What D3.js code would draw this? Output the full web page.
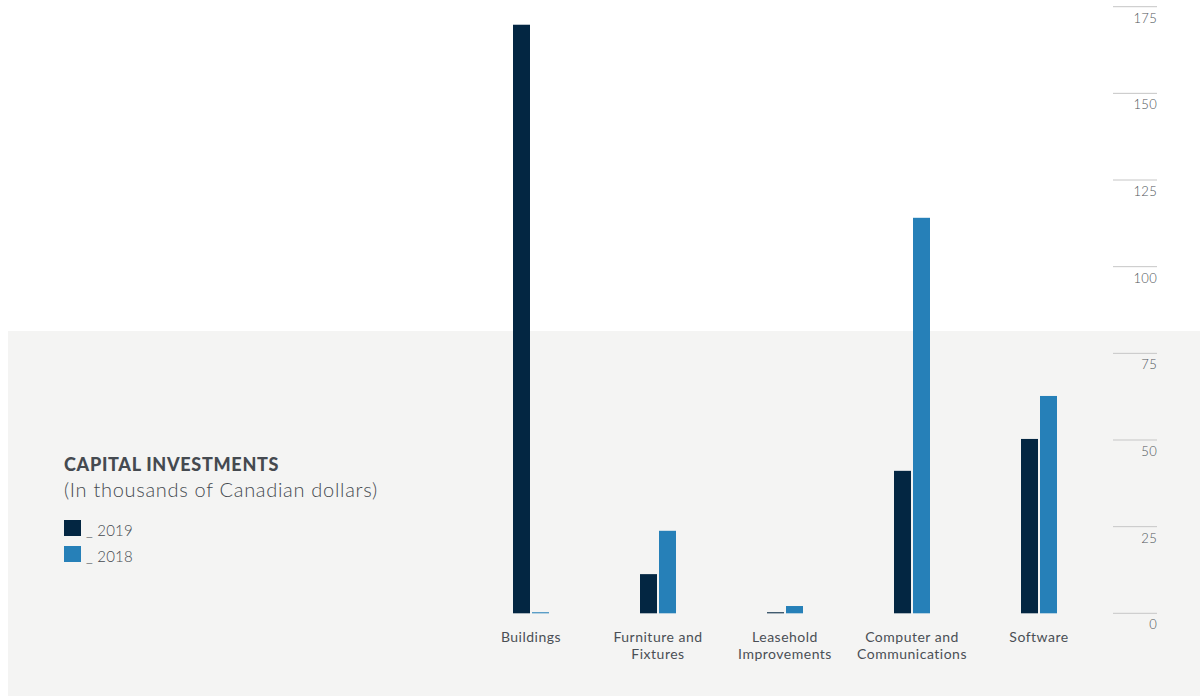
<!DOCTYPE html>
<html>
<head>
<meta charset="utf-8">
<script src="https://cdn.jsdelivr.net/npm/d3@7"></script>
<style>
  html, body { margin: 0; padding: 0; background: #ffffff; }
  svg { display: block; }
  text { font-family: Lato, "Open Sans", sans-serif; }
</style>
</head>
<body>
<svg id="chart" width="1200" height="696"></svg>
<script>
// Capital investments by asset class, in thousands of CAD
const categories = [
  ["Buildings"],
  ["Furniture and", "Fixtures"],
  ["Leasehold", "Improvements"],
  ["Computer and", "Communications"],
  ["Software"]
];
const seriesNames = ["2019", "2018"];
const values2019 = [169.8, 11.3, 0.3, 41.1, 50.3];
const values2018 = [0.3, 23.8, 2.1, 114.1, 62.7];
const tickValues = [0, 25, 50, 75, 100, 125, 150, 175];

const colors = { "2019": "#032642", "2018": "#2680b8" };
const textColor = "#454a50";

const svg = d3.select("#chart");
const W = 1200, H = 696;

// light panel behind the lower half
svg.append("rect")
  .attr("x", 8).attr("y", 331)
  .attr("width", W - 8).attr("height", H - 331)
  .attr("fill", "#f4f4f3");

const catKeys = categories.map(c => c.join(" "));
const x = d3.scaleBand().domain(catKeys).range([467.5, 1102.5]).padding(0);
const y = d3.scaleLinear().domain([0, 175]).range([613.3, 6.7]);
const barW = 17, gap = 2;

// value gridlines on the right with labels beneath
const axis = svg.append("g");
tickValues.forEach(t => {
  axis.append("line")
    .attr("x1", 1113).attr("x2", 1157)
    .attr("y1", y(t)).attr("y2", y(t))
    .attr("stroke", "#c6c6c6").attr("stroke-width", 1);
  axis.append("text")
    .attr("x", 1157).attr("y", y(t) + 16)
    .attr("text-anchor", "end")
    .attr("font-size", 13).attr("font-weight", 300)
    .attr("letter-spacing", 0.3)
    .attr("fill", "#50555b")
    .text(t);
});

// grouped bars
const rows = catKeys.map((k, i) => ({ key: k, "2019": values2019[i], "2018": values2018[i] }));
const groups = svg.append("g").selectAll("g").data(rows).join("g")
  .attr("transform", d => `translate(${x(d.key) + x.bandwidth() / 2},0)`);

groups.selectAll("rect")
  .data(d => seriesNames.map((s, j) => ({ s, j, v: d[s] })))
  .join("rect")
  .attr("x", d => d.j === 0 ? -(barW + gap / 2) : gap / 2)
  .attr("width", barW)
  .attr("y", d => y(d.v))
  .attr("height", d => y(0) - y(d.v))
  .attr("fill", d => colors[d.s]);

// category labels
groups.each(function (d, i) {
  const t = d3.select(this).append("text")
    .attr("text-anchor", "middle")
    .attr("font-size", 14).attr("font-weight", 400)
    .attr("letter-spacing", 0.5)
    .attr("fill", "#4a4f55");
  categories[i].forEach((line, li) => {
    t.append("tspan").attr("x", 0).attr("y", 642 + li * 17).text(line);
  });
});

// title and legend
svg.append("text")
  .attr("x", 64).attr("y", 471)
  .attr("font-size", 18).attr("font-weight", 900)
  .attr("letter-spacing", 0.7)
  .attr("fill", textColor)
  .text("CAPITAL INVESTMENTS");
svg.append("text")
  .attr("x", 64).attr("y", 497)
  .attr("font-size", 20).attr("font-weight", 300)
  .attr("letter-spacing", 0.7)
  .attr("fill", textColor)
  .text("(In thousands of Canadian dollars)");

const legend = svg.append("g");
seriesNames.forEach((s, i) => {
  legend.append("rect")
    .attr("x", 64).attr("y", 520 + i * 26)
    .attr("width", 17).attr("height", 16)
    .attr("fill", colors[s]);
  legend.append("text")
    .attr("x", 86).attr("y", 536 + i * 26)
    .attr("font-size", 15).attr("font-weight", 300)
    .attr("letter-spacing", 0.2)
    .attr("fill", textColor)
    .text("_ " + s);
});
</script>
</body>
</html>
